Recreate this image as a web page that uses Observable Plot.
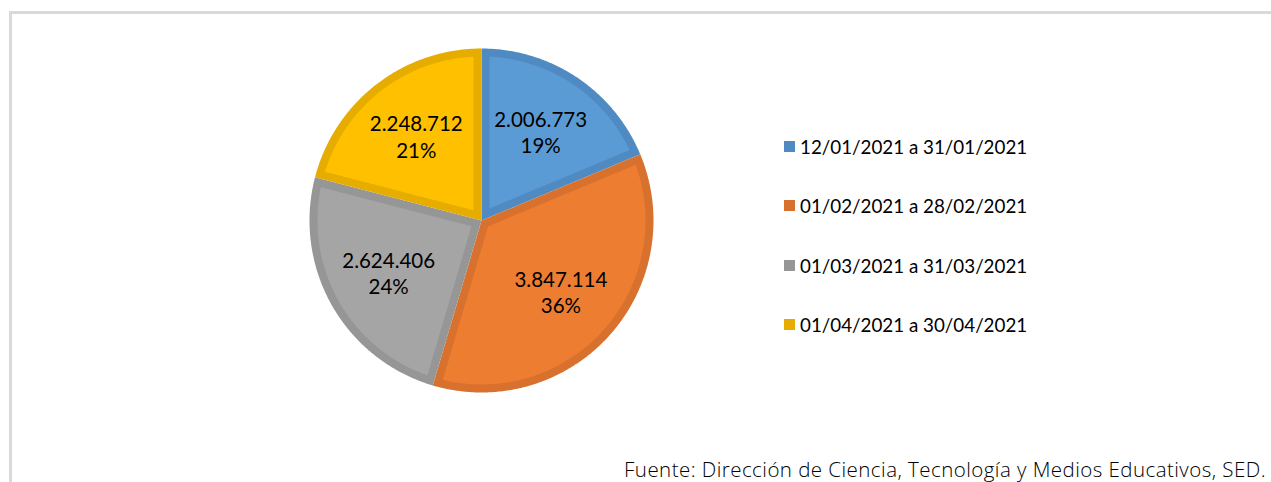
<!DOCTYPE html>
<html><head><meta charset="utf-8">
<script src="https://cdn.jsdelivr.net/npm/d3@7"></script>
<script src="https://cdn.jsdelivr.net/npm/@observablehq/plot@0.6"></script>
<style>
body{margin:0;background:#fff;font-family:Lato,"Open Sans",sans-serif;}
#wrap{position:relative;width:1271px;height:482px;overflow:hidden;background:#fff;}
#frame{position:absolute;left:9px;top:11px;width:1300px;height:500px;border-left:3px solid #D9D9D9;border-top:3px solid #D9D9D9;}
#chart{position:absolute;left:0;top:0;}
.item{position:absolute;left:784px;display:flex;align-items:center;font-size:18.8px;color:#000;white-space:nowrap;}
.sw{width:11px;height:11px;margin-right:5px;}
#source{position:absolute;right:5px;top:455px;font-family:"Open Sans",sans-serif;font-size:20.5px;letter-spacing:0.45px;font-weight:300;color:#000;white-space:nowrap;}
</style>
</head><body>
<div id="wrap">
  <div id="frame"></div>
  <div id="chart"></div>
  <div id="legend"></div>
  <div id="source"></div>
</div>
<script>
const periods = ["12/01/2021 a 31/01/2021","01/02/2021 a 28/02/2021","01/03/2021 a 31/03/2021","01/04/2021 a 30/04/2021"];
const values = [2006773, 3847114, 2624406, 2248712];
const fills = ["#5B9BD5","#ED7D31","#A5A5A5","#FFC000"];
const borders = ["#4F8BC2","#D8712E","#969696","#E6AD00"];
const sourceText = "Fuente: Dirección de Ciencia, Tecnología y Medios Educativos, SED.";

const total = d3.sum(values);
const fmt = d3.formatLocale({decimal:",", thousands:".", grouping:[3], currency:["",""]}).format(",");
const pie = d3.pie().sort(null).value(d => d)(values);
const inset = 8/172;

function slicePoints(a0, a1, i) {
  const pts = [{x:0,y:0,i}];
  const n = Math.max(8, Math.ceil((a1-a0)/0.01));
  for (let k=0;k<=n;k++){const a=a0+(a1-a0)*k/n;pts.push({x:Math.sin(a),y:Math.cos(a),i});}
  return pts;
}
function insetPoints(a0, a1, i) {
  const half = (a1-a0)/2, mid = (a0+a1)/2;
  const apex = inset/Math.sin(half);
  const pts = [{x:apex*Math.sin(mid),y:apex*Math.cos(mid),i}];
  const R = 1-inset, da = Math.asin(inset/R);
  const b0=a0+da, b1=a1-da;
  const n = Math.max(8, Math.ceil((b1-b0)/0.01));
  for (let k=0;k<=n;k++){const a=b0+(b1-b0)*k/n;pts.push({x:R*Math.sin(a),y:R*Math.cos(a),i});}
  return pts;
}

const marks = [];
pie.forEach((p,i) => {
  marks.push(Plot.line(slicePoints(p.startAngle,p.endAngle,i),{x:"x",y:"y",fill:borders[i],stroke:"none"}));
  marks.push(Plot.line(insetPoints(p.startAngle,p.endAngle,i),{x:"x",y:"y",fill:fills[i],stroke:"none"}));
});
const labels = pie.map((p,i) => {
  const m = (p.startAngle+p.endAngle)/2, r = 0.62;
  return {x:r*Math.sin(m), y:r*Math.cos(m), t: fmt(values[i]) + "\n" + Math.round(values[i]/total*100) + "%"};
});
marks.push(Plot.text(labels,{x:"x",y:"y",text:"t",fontSize:20.5,lineHeight:1.27,fill:"#000",fontFamily:"Lato, 'Open Sans', sans-serif"}));

const chart = Plot.plot({
  width:1271, height:482, margin:0,
  x:{domain:[-1,1], range:[309,653], axis:null},
  y:{domain:[-1,1], range:[392,48], axis:null},
  style:{background:"transparent"},
  marks
});
document.getElementById("chart").appendChild(chart);

const legend = document.getElementById("legend");
periods.forEach((p,i) => {
  const it = document.createElement("div");
  it.className = "item";
  it.style.top = (135 + i*59.3) + "px";
  it.innerHTML = `<span class="sw" style="background:${borders[i]}"></span><span>${p}</span>`;
  legend.appendChild(it);
});
document.getElementById("source").textContent = sourceText;
</script>
</body></html>
